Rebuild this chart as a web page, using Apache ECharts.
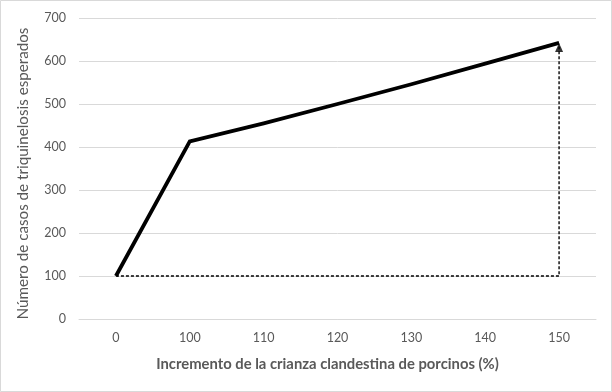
<!DOCTYPE html>
<html><head><meta charset="utf-8">
<script src="https://cdn.jsdelivr.net/npm/echarts@6/dist/echarts.min.js"></script>
<style>html,body{margin:0;padding:0;background:#fff}#c{width:612px;height:392px}</style>
</head><body><div id="c"></div>
<script>
const categories = ['0', '100', '110', '120', '130', '140', '150'];
const casos = [100, 413, 455, 500, 546, 594, 642];
const yTicks = [0, 100, 200, 300, 400, 500, 600, 700];
const baseValue = 100;
const arrowTop = 642;
const xTitle = 'Incremento de la crianza clandestina de porcinos (%)';
const yTitle = 'Número de casos de triquinelosis esperados';

const chart = echarts.init(document.getElementById('c'), null, {renderer: 'canvas'});
const font = 'Lato';
const last = categories[categories.length - 1];
chart.setOption({
  animation: false,
  backgroundColor: '#fff',
  grid: {left: 79, right: 16, top: 18, bottom: 73},
  graphic: [{type: 'rect', shape: {x: 0.5, y: 0.5, width: 611, height: 391},
    style: {fill: 'none', stroke: '#d9d9d9', lineWidth: 1}, silent: true}],
  xAxis: {
    type: 'category', data: categories, boundaryGap: true,
    axisLine: {show: true, lineStyle: {color: '#d9d9d9'}},
    axisTick: {show: false},
    axisLabel: {color: '#595959', fontFamily: font, fontSize: 12.5, margin: 12},
    name: xTitle, nameLocation: 'middle', nameGap: 38,
    nameTextStyle: {color: '#595959', fontFamily: font, fontSize: 14.8, fontWeight: 'bold',
      padding: [0, 20, 0, 0]}
  },
  yAxis: {
    type: 'value', min: yTicks[0], max: yTicks[yTicks.length - 1], interval: 100,
    axisLine: {show: false}, axisTick: {show: false},
    splitLine: {lineStyle: {color: '#d9d9d9', width: 1}},
    axisLabel: {color: '#595959', fontFamily: font, fontSize: 12.5, margin: 13},
    name: yTitle, nameLocation: 'middle', nameGap: 48,
    nameTextStyle: {color: '#595959', fontFamily: font, fontSize: 15.2, padding: [0, 10, 0, 0]}
  },
  series: [
    {
      type: 'line', silent: true, symbol: 'none', z: 2,
      lineStyle: {color: '#000', width: 1.4, type: [3, 2]},
      data: [[categories[0], baseValue], [last, baseValue], [last, arrowTop - 8]]
    },
    {
      type: 'scatter', silent: true, z: 3,
      symbol: 'triangle', symbolSize: [8, 9], symbolOffset: [0, 4.5],
      itemStyle: {color: '#000'},
      data: [[last, arrowTop]]
    },
    {
      type: 'line', silent: true, symbol: 'none', z: 4,
      lineStyle: {color: '#000', width: 3.8, join: 'miter'},
      data: casos
    }
  ]
});
</script></body></html>
